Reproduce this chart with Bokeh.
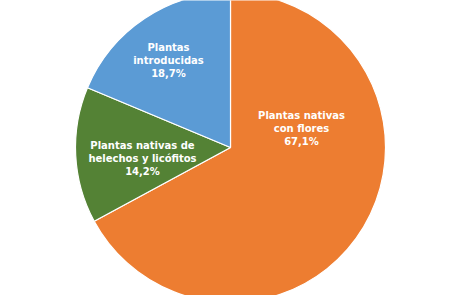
from bokeh.plotting import figure
from bokeh.models import Range1d, ColumnDataSource
from bokeh.core.properties import value
from bokeh.embed import file_html
from bokeh.resources import INLINE
import math

labels = ["Plantas nativas\ncon flores\n67,1%",
          "Plantas nativas de\nhelechos y licófitos\n14,2%",
          "Plantas\nintroducidas\n18,7%"]
shares = [67.1, 14.2, 18.7]
colors = ["#ED7D31", "#548235", "#5B9BD5"]

# layout (pixels)
W, H = 460, 295
cx, cy, R = 230, 295 - 147, 155
label_pos = [(301, 295 - 128), (142, 295 - 158), (168, 295 - 60)]

total = sum(shares)
starts, ends = [], []
acc = 0.0
for s in shares:
    a0 = math.pi / 2 - 2 * math.pi * acc / total
    acc += s
    a1 = math.pi / 2 - 2 * math.pi * acc / total
    starts.append(a0)
    ends.append(a1)

src = ColumnDataSource(dict(start=starts, end=ends, color=colors,
                            x=[cx] * 3, y=[cy] * 3))

p = figure(width=W, height=H, output_backend="svg", toolbar_location=None,
           x_range=Range1d(0, W), y_range=Range1d(0, H), min_border=0)
p.axis.visible = False
p.grid.visible = False
p.outline_line_color = None
p.background_fill_color = "white"
p.border_fill_color = "white"

p.wedge(x="x", y="y", radius=R, start_angle="start", end_angle="end",
        direction="clock", fill_color="color", line_color="white",
        line_width=1.2, source=src)

tsrc = ColumnDataSource(dict(x=[q[0] for q in label_pos],
                             y=[q[1] for q in label_pos], t=labels))
p.text(x="x", y="y", text="t", source=tsrc, text_color="white",
       text_font=value("DejaVu Sans"), text_font_style="bold",
       text_font_size="9.5pt" if False else "10px", text_align="center",
       text_baseline="middle", text_line_height=1.2)

open("out.html", "w").write(file_html(p, INLINE))
